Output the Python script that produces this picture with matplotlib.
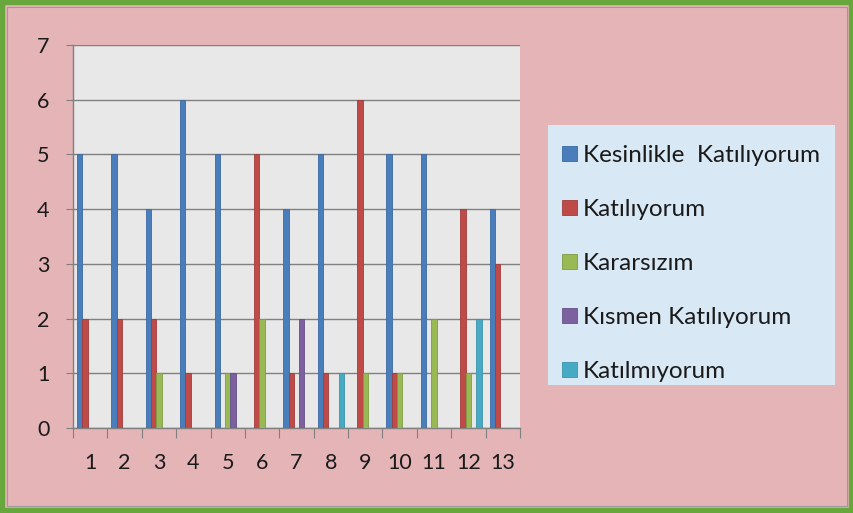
import matplotlib
matplotlib.use("Agg")
import matplotlib.pyplot as plt
import numpy as np
from matplotlib.patches import Rectangle

categories = [str(i) for i in range(1, 14)]
series_names = ["Kesinlikle  Katılıyorum", "Katılıyorum", "Kararsızım",
                "Kısmen Katılıyorum", "Katılmıyorum"]
kesinlikle = [5, 5, 4, 6, 5, 0, 4, 5, 0, 5, 5, 0, 4]
katiliyorum = [2, 2, 2, 1, 0, 5, 1, 1, 6, 1, 0, 4, 3]
kararsizim = [0, 0, 1, 0, 1, 2, 0, 0, 1, 1, 2, 1, 0]
kismen = [0, 0, 0, 0, 1, 0, 2, 0, 0, 0, 0, 0, 0]
katilmiyorum = [0, 0, 0, 0, 0, 0, 0, 1, 0, 0, 0, 2, 0]
colors = ["#4a7ebb", "#be4b48", "#98b954", "#7d60a0", "#46aac5"]
edge_colors = ["#3a6aa5", "#a33c3a", "#7f9c44", "#66508a", "#3a93ab"]

plt.rcParams['font.family'] = ['Lato', 'DejaVu Sans']

W, H = 854, 513
fig = plt.figure(figsize=(W / 100, H / 100), dpi=100)
fig.patch.set_facecolor("#e4b4b7")

# green border
fig.patches.append(Rectangle((0, 0), 1, 1, transform=fig.transFigure,
                             fill=False, edgecolor="#68a73c", linewidth=7.5))
fig.patches.append(Rectangle((7 / W, 7 / H), 1 - 14 / W, 1 - 14 / H,
                             transform=fig.transFigure, fill=False,
                             edgecolor="#9a9a9a", linewidth=0.8))

# legend box
fig.patches.append(Rectangle((548 / W, 1 - 385 / H), (835 - 548) / W, (385 - 125) / H,
                             transform=fig.transFigure, facecolor="#d9e8f5",
                             edgecolor="none", zorder=-1))

left, right, top, bottom = 73, 520, 45, 428
ax = fig.add_axes([left / W, 1 - bottom / H, (right - left) / W, (bottom - top) / H])
ax.set_facecolor("#e8e8e8")

data = [kesinlikle, katiliyorum, kararsizim, kismen, katilmiyorum]
n = len(categories)
x = np.arange(n)
w = 1 / 6.5
offset0 = -2 * w
for i, (vals, name) in enumerate(zip(data, series_names)):
    ax.bar(x + offset0 + i * w, vals, width=w, color=colors[i],
           edgecolor=edge_colors[i], linewidth=0.6, label=name, zorder=3)

ax.set_xlim(-0.5, n - 0.5)
ax.set_ylim(0, 7)
ax.set_yticks(range(0, 8))
ax.yaxis.grid(True, color="#808080", linewidth=1.0, zorder=1)
ax.set_axisbelow(True)

for s in ["top", "right"]:
    ax.spines[s].set_visible(False)
for s in ["left", "bottom"]:
    ax.spines[s].set_color("#808080")
    ax.spines[s].set_linewidth(1.0)

ax.set_xticks(np.arange(-0.5, n, 1.0))
ax.set_xticklabels([])
ax.set_xticks(x, minor=True)
ax.set_xticklabels(categories, minor=True, fontsize=15.5, color="#1a1a1a")
ax.tick_params(axis="x", which="major", length=7, color="#808080", direction="out")
ax.tick_params(axis="x", which="minor", length=0, pad=18)
ax.tick_params(axis="y", length=5, color="#808080", labelsize=15.5,
               labelcolor="#1a1a1a", pad=12)

handles, labels = ax.get_legend_handles_labels()
leg = fig.legend(handles, labels, loc="upper left", bbox_to_anchor=(562 / W, 1 - 145 / H),
                 fontsize=17.5, frameon=False, labelspacing=1.36,
                 handlelength=0.6, handleheight=0.55, handletextpad=0.25,
                 borderpad=0, borderaxespad=0)
for t in leg.get_texts():
    t.set_color("#1a1a1a")

fig.savefig("out.png", dpi=100, facecolor=fig.get_facecolor())
